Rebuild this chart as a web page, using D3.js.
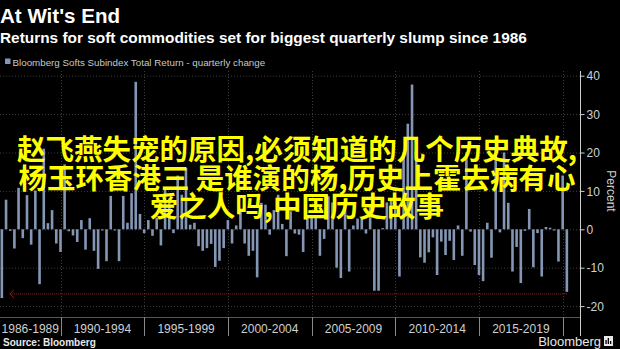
<!DOCTYPE html>
<html><head><meta charset="utf-8">
<script src="https://cdn.jsdelivr.net/npm/d3@7"></script>
<style>html,body{margin:0;padding:0;background:#000;}svg{display:block;}</style>
</head><body>
<svg id="c" width="620" height="349"></svg>
<script>
// ---------------- DATA ----------------
const title = "At Wit's End";
const subtitle = "Returns for soft commodities set for biggest quarterly slump since 1986";
const legendLabel = "Bloomberg Softs Subindex Total Return - quarterly change";
const source = "Source: Bloomberg";
const firstQuarter = {year: 1986, q: 2};   // first bar: Q2 1986, last bar: Q1 2020
const values = [
 -17.9, 7.7, -0.4, -5.0, 10.8, -2.3, 8.9, -4.0, 10.1, -14.3,
  21.0, 1.6, 5.0, -3.7, -5.9, 16.9, -0.5, -1.6, -3.3, 2.4,
  -5.3, 2.9, -5.6, -10.3, -0.3, -8.3, 8.7, -0.3, -8.3, 8.7,
   1.7, 9.4, 38.4, 4.0, -1.0, 2.4, -1.7, 3.0, -4.2, 11.0,
   8.0, -1.0, 14.0, 9.0, 16.0, 1.2, 1.7, -4.4, -5.6, -4.9,
  -3.8, -9.8, -8.2, -4.9, 2.4, -3.7, 1.0, 5.0, -3.7, -6.9,
  -5.6, -12.5, 6.9, 6.4, -1.4, 5.0, 9.0, 1.4, -7.0, 4.7,
  -1.1, -1.4, -5.9, 3.2, 3.2, 3.2, -6.9, -2.5, 8.6, 7.0,
 -10.0, -12.7, 7.3, -11.0, 1.0, 2.8, 2.8, -1.1, 6.0, -16.0,
 -16.0, 0.3, 7.0, 8.0, 7.0, -12.3, 20.0, 27.5, 37.7, 20.0,
  -7.3, -8.7, -6.0, -2.1, -11.9, -3.2, -6.7, -3.0, -8.0, 1.0,
  -6.9, 20.0, -0.6, -9.3, -11.9, -13.5, 1.7, -7.4, 21.0, -0.8,
  20.0, 6.9, -11.0, -4.6, -14.0, -0.4, 5.3, -9.9, -1.0, -12.3,
   0.6, 0.4, -0.3, -8.4, 14.0, -16.3
];
const slumpLevel = -16.7;   // red reference line
const yTicks = [-20, -10, 0, 10, 20, 30, 40];
const periodLabels = ["1986-1989", "1990-1994", "1995-1999", "2000-2004", "2005-2009", "2010-2014", "2015-2019"];
const periodBounds = [1986, 1990, 1995, 2000, 2005, 2010, 2015, 2020];
const overlayLines = [
  "赵飞燕失宠的原因,必须知道的几个历史典故,",
  "杨玉环香港三 是谁演的杨,历史上霍去病有心",
  "爱之人吗,中国历史故事"
];

// quarter-end dates for each bar
const quarters = values.map((v, i) => {
  const qi = (firstQuarter.q - 1) + i;
  const yr = firstQuarter.year + Math.floor(qi / 4);
  const q = qi % 4;
  return new Date(yr, q * 3 + 3, 0); // last day of quarter
});

// ---------------- LAYOUT ----------------
const svg = d3.select("#c");
const plot = {left: 0, right: 580, top: 71, bottom: 317};
const x = d3.scaleTime()
  .domain([new Date(1986, 4, 21), new Date(2021, 0, 12)])
  .range([plot.left, plot.right]);
const y = d3.scaleLinear().domain([-20, 40]).range([306.1, 75.7]);

function fit(sel, w) {
  const n = sel.node();
  const fs = parseFloat(sel.attr("font-size"));
  const len = n.getComputedTextLength();
  if (len > 0) sel.attr("font-size", (fs * w / len).toFixed(2));
  return sel;
}

const sans = "'Liberation Sans', Arial, sans-serif";

// titles
fit(svg.append("text").attr("x", 0).attr("y", 22.5).attr("fill", "#fff")
  .attr("font-family", sans).attr("font-weight", "bold").attr("font-size", 20).text(title), 120);
fit(svg.append("text").attr("x", 0).attr("y", 42.5).attr("fill", "#fff")
  .attr("font-family", sans).attr("font-weight", "bold").attr("font-size", 15).text(subtitle), 527);

// legend
svg.append("rect").attr("x", 5).attr("y", 58.5).attr("width", 5.5).attr("height", 5.5).attr("fill", "#8496b4");
fit(svg.append("text").attr("x", 12.5).attr("y", 65.5).attr("fill", "#c8c8c8")
  .attr("font-family", sans).attr("font-size", 10.5).text(legendLabel), 253);

// gridlines
const grid = svg.append("g");
grid.selectAll("line.h").data(yTicks).join("line")
  .attr("x1", plot.left).attr("x2", plot.right)
  .attr("y1", d => y(d) + 0.5).attr("y2", d => y(d) + 0.5)
  .attr("stroke", "#3c3c3c").attr("stroke-width", 1).attr("stroke-dasharray", "1,2");
grid.selectAll("line.v").data(periodBounds.slice(1)).join("line")
  .attr("x1", d => Math.round(x(new Date(d, 0, 1))) + 0.5)
  .attr("x2", d => Math.round(x(new Date(d, 0, 1))) + 0.5)
  .attr("y1", plot.top).attr("y2", plot.bottom)
  .attr("stroke", "#3c3c3c").attr("stroke-width", 1).attr("stroke-dasharray", "1,2");

// bars
const bw = 2.6;
svg.append("g").selectAll("rect").data(values).join("rect")
  .attr("x", (d, i) => x(quarters[i]) - bw / 2)
  .attr("width", bw)
  .attr("y", d => Math.min(y(0), y(d)))
  .attr("height", d => Math.abs(y(d) - y(0)))
  .attr("fill", "#8496b4");

// red reference line with arrow
const redY = y(slumpLevel) + 0.5;
const rx1 = x(quarters[0]) + 8, rx2 = x(quarters[quarters.length - 1]);
svg.append("line").attr("x1", rx1).attr("x2", rx2).attr("y1", redY).attr("y2", redY)
  .attr("stroke", "#9b2222").attr("stroke-width", 1).attr("stroke-dasharray", "1,1");
svg.append("path").attr("d", `M${rx1 + 4},${redY - 4} L${rx1},${redY} L${rx1 + 4},${redY + 4}`)
  .attr("fill", "none").attr("stroke", "#9b2222").attr("stroke-width", 1);

// right axis
const yAxis = d3.axisRight(y).tickValues(yTicks).tickSize(4).tickPadding(2).tickFormat(d => String(d));
const ya = svg.append("g").attr("transform", `translate(${plot.right + 0.5},0)`).call(yAxis);
ya.select(".domain").remove();
ya.selectAll("line").attr("stroke", "#cfcfcf");
ya.selectAll("text").attr("fill", "#d0d0d0").attr("font-family", sans).attr("font-size", 12).attr("dy", "0.35em");
svg.append("line").attr("x1", plot.right + 0.5).attr("x2", plot.right + 0.5)
  .attr("y1", plot.top).attr("y2", 336).attr("stroke", "#d0d0d0").attr("stroke-width", 1);
svg.append("text").attr("transform", `translate(607,191) rotate(90)`)
  .attr("text-anchor", "middle").attr("fill", "#d0d0d0").attr("font-family", sans)
  .attr("font-size", 12).text("Percent");

// bottom axis
svg.append("line").attr("x1", 0).attr("x2", plot.right).attr("y1", plot.bottom + 0.5).attr("y2", plot.bottom + 0.5)
  .attr("stroke", "#555");
svg.append("g").selectAll("line").data(periodBounds.slice(1)).join("line")
  .attr("x1", d => Math.round(x(new Date(d, 0, 1))) + 0.5)
  .attr("x2", d => Math.round(x(new Date(d, 0, 1))) + 0.5)
  .attr("y1", plot.bottom).attr("y2", 336).attr("stroke", "#8a8a8a");
svg.append("g").selectAll("text").data(periodLabels).join("text")
  .attr("x", (d, i) => {
    const a = Math.max(0, x(new Date(periodBounds[i], 0, 1)));
    const b = x(new Date(periodBounds[i + 1], 0, 1));
    return (a + b) / 2;
  })
  .attr("y", 333).attr("text-anchor", "middle").attr("fill", "#d0d0d0")
  .attr("font-family", sans).attr("font-size", 12).text(d => d);

// source + logo
svg.append("text").attr("x", 3).attr("y", 346).attr("fill", "#e8e8e8").attr("font-family", sans)
  .attr("font-weight", "bold").attr("font-size", 10).text(source);
svg.append("text").attr("x", 601).attr("y", 346).attr("text-anchor", "end").attr("fill", "#e8e8e8")
  .attr("font-family", sans).attr("font-size", 13).text("Bloomberg");
svg.append("rect").attr("x", 604).attr("y", 336).attr("width", 9).attr("height", 10).attr("fill", "#e8e8e8");
[[606, 340, 4], [608.3, 338, 6], [610.6, 341, 3]].forEach(([bx, by, bh]) =>
  svg.append("rect").attr("x", bx - 0.6).attr("y", by).attr("width", 1.3).attr("height", bh).attr("fill", "#000"));

// overlay caption
const cap = svg.append("g");
overlayLines.forEach((t, i) => {
  cap.append("text").attr("x", 297).attr("y", 160 + i * 28.5)
    .attr("text-anchor", "middle").attr("fill", "#ffff00")
    .attr("font-family", "'Noto Sans CJK SC', sans-serif").attr("font-weight", "bold")
    .attr("font-size", 28.5).text(t);
});
</script>
</body></html>
